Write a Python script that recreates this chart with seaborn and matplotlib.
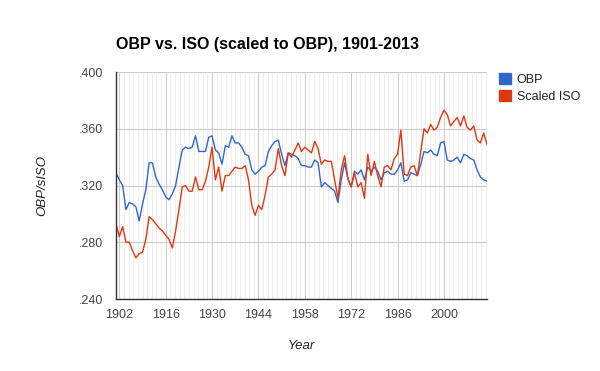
import numpy as np
import pandas as pd
import seaborn as sns
import matplotlib.pyplot as plt
from matplotlib.patches import Patch
from matplotlib.ticker import FuncFormatter, FixedLocator

# yearly values, 1901-2013
years = list(range(1901, 2014))
obp = [
    .329, .324, .320, .303, .308, .307, .305, .295, .307, .317,
    .336, .336, .326, .321, .317, .312, .310, .314, .320, .333,
    .345, .347, .346, .347, .355, .344, .344, .344, .354, .355,
    .345, .343, .335, .348, .347, .355, .350, .350, .347, .342,
    .341, .331, .328, .330, .333, .334, .344, .348, .351, .352,
    .342, .334, .343, .342, .341, .339, .334, .334, .333, .333,
    .338, .336, .319, .322, .320, .318, .316, .308, .324, .336,
    .325, .319, .330, .328, .331, .324, .333, .330, .333, .330,
    .324, .329, .330, .328, .328, .331, .336, .323, .324, .329,
    .328, .327, .335, .344, .343, .345, .342, .341, .350, .351,
    .338, .337, .338, .340, .336, .342, .341, .339, .338, .331,
    .326, .324, .323,
]
scaled_iso = [
    .293, .284, .291, .280, .280, .274, .269, .272, .273, .282,
    .298, .296, .293, .290, .288, .285, .282, .276, .288, .303,
    .319, .320, .316, .316, .326, .317, .317, .323, .333, .347,
    .324, .333, .316, .327, .327, .330, .333, .332, .332, .334,
    .324, .306, .299, .306, .303, .313, .326, .328, .331, .346,
    .334, .327, .343, .340, .345, .350, .344, .347, .345, .343,
    .351, .346, .335, .338, .337, .337, .324, .311, .331, .341,
    .325, .319, .329, .319, .322, .311, .342, .327, .337, .327,
    .319, .333, .334, .331, .339, .342, .359, .328, .327, .333,
    .334, .327, .344, .360, .357, .363, .359, .361, .368, .373,
    .370, .362, .365, .368, .362, .369, .361, .359, .362, .352,
    .350, .357, .349,
]
series_names = ["OBP", "Scaled ISO"]
colors = ["#3366CC", "#DC3912"]
x_ticks = [1902, 1916, 1930, 1944, 1958, 1972, 1986, 2000]
y_ticks = [.240, .280, .320, .360, .400]

df = pd.DataFrame({"Year": years * 2,
                   "value": obp + scaled_iso,
                   "series": [series_names[0]] * len(years) + [series_names[1]] * len(years)})

sns.set_style("white")
plt.rcParams["font.family"] = ["Liberation Sans", "DejaVu Sans"]

fig = plt.figure(figsize=(6, 3.71), dpi=100)
ax = fig.add_axes([116 / 600, 72 / 371, 371 / 600, 227 / 371])

# minor vertical gridlines (10 per major interval)
minor = np.arange(1902, 2014, 1.4)
ax.xaxis.set_minor_locator(FixedLocator(minor))
ax.grid(True, which="minor", axis="x", color="#eeeeee", linewidth=0.8)
ax.grid(True, which="major", color="#cccccc", linewidth=0.8)
ax.set_axisbelow(True)

sns.lineplot(data=df, x="Year", y="value", hue="series", palette=colors,
             linewidth=1.0, ax=ax, legend=False)

ax.set_xlim(1901, 2013)
ax.set_ylim(.240, .400)
ax.set_xticks(x_ticks)
ax.set_yticks(y_ticks)
ax.yaxis.set_major_formatter(FuncFormatter(lambda v, p: f"{v:.3f}".lstrip("0")))
ax.tick_params(axis="both", which="both", length=0, labelsize=9, colors="#444444")
ax.tick_params(axis="x", pad=7)
ax.tick_params(axis="y", pad=9)

for s in ["top", "right"]:
    ax.spines[s].set_visible(False)
for s in ["left", "bottom"]:
    ax.spines[s].set_color("#333333")
    ax.spines[s].set_linewidth(1.0)

ax.set_xlabel("Year", fontstyle="italic", fontsize=9.5, color="#222222", labelpad=14)
ax.set_ylabel("OBP/sISO", fontstyle="italic", fontsize=9.5, color="#222222", labelpad=22)

fig.text(116 / 600, 1 - 45 / 371, "OBP vs. ISO (scaled to OBP), 1901-2013",
         fontsize=11.5, fontweight="bold", color="#000000", va="center", ha="left")

handles = [Patch(facecolor=c, edgecolor=c, label=n) for c, n in zip(colors, series_names)]
fig.legend(handles=handles, loc="upper left", bbox_to_anchor=(488 / 600, 1 - 62 / 371),
           frameon=False, fontsize=9, handlelength=0.9, handleheight=0.9,
           handletextpad=0.5, labelspacing=0.35, labelcolor="#222222")

fig.savefig("out.png", dpi=100)
